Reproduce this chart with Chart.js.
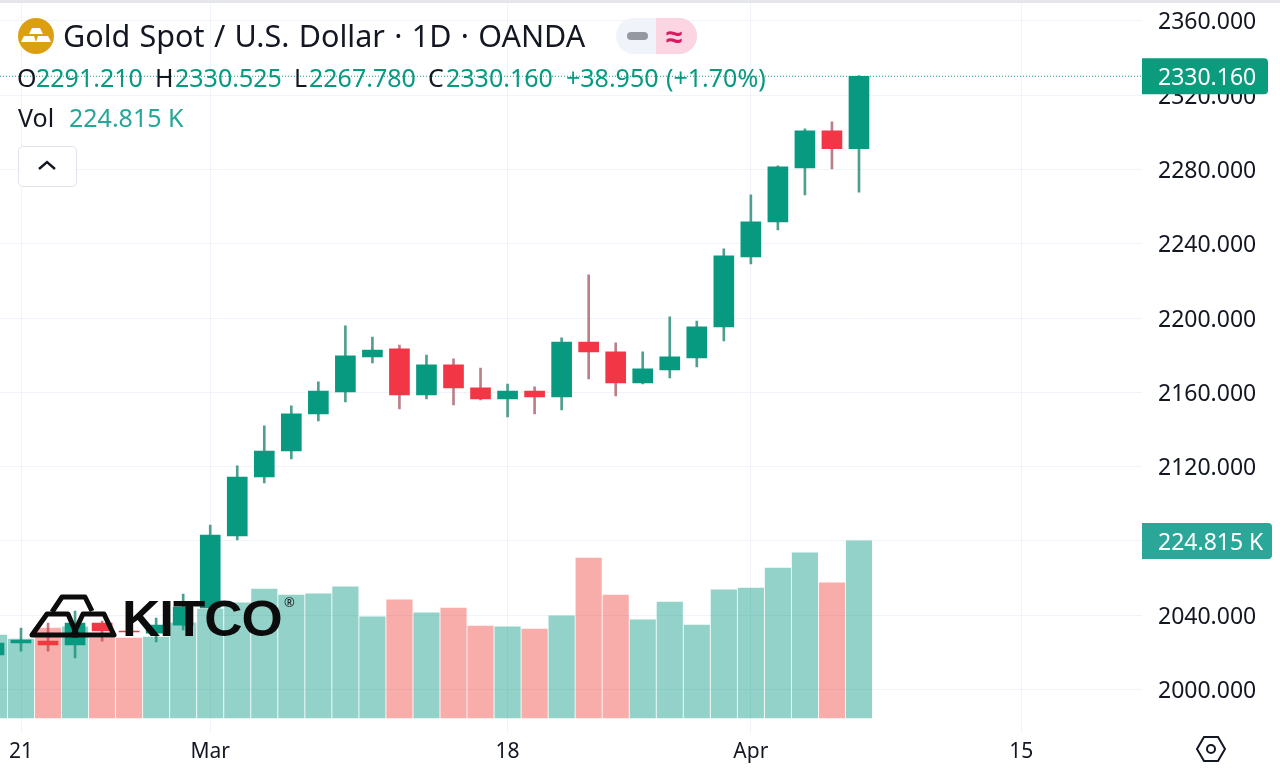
<!DOCTYPE html>
<html>
<head>
<meta charset="utf-8">
<title>Gold Spot / U.S. Dollar</title>
<script src="https://cdn.jsdelivr.net/npm/chart.js@4"></script>
<style>
    html, body { margin: 0; padding: 0; background: #fff; }
    #wrap { position: relative; width: 1280px; height: 773px; overflow: hidden; font-family: "Noto Sans", sans-serif; color: #131722; }
    /* the layout keeps 27px above the plot, so the canvas sits 27px higher */
    #wrap canvas { position: absolute; left: 0; top: -27px; }
    .topband { position: absolute; left: 0; top: 0; width: 1280px; height: 3px; background: #e4e6ec; }
    .txt { position: absolute; white-space: nowrap; line-height: 1; }
    .title { font-size: 30.5px; top: 20px; word-spacing: 1.4px; }
    .ohlc { font-size: 25px; top: 65px; }
    .vol { font-size: 25px; top: 105px; }
    .up { color: #089981; }
    .vol-up { color: #26a69a; }
    .btn { position: absolute; left: 18px; top: 146px; width: 57px; height: 39px; border: 1px solid #e0e3eb; border-radius: 5px; background: #fff; }
    .pill { position: absolute; left: 616px; top: 18px; width: 81px; height: 36px; border-radius: 18px; overflow: hidden; background: #f0f3fa; }
    .pill .r { position: absolute; left: 40px; top: 0; width: 41px; height: 36px; background: #fbd5e2; }
    .pill .dash { position: absolute; left: 11px; top: 14px; width: 21px; height: 8px; border-radius: 4px; background: #9598a1; }
    .pill .wave { position: absolute; left: -2px; top: 0; width: 40px; text-align: center; font-size: 30px; font-weight: bold; line-height: 36px; color: #d81b60; }
    .kitco { font-family: "Liberation Sans", sans-serif; font-weight: bold; font-size: 50px; left: 122px; top: 594px; color: #0c0c0c; transform-origin: 0 0; transform: scaleX(1.06); letter-spacing: -1px; }
    .reg { font-size: 13px; left: 284px; top: 596px; color: #222; }
    svg { position: absolute; }
</style>
</head>
<body>
<div id="wrap">
    <canvas id="goldChart" width="1280" height="800"></canvas>
    <div class="topband"></div>

    <svg style="left:18px;top:18px" width="36" height="36" viewBox="0 0 36 36">
        <circle cx="18" cy="18" r="18" fill="#dd9f12"/>
        <path d="M14 10h8l3 6H11z M6 18h10l2 6H3z M20 18h10l3 6H18z" fill="#fff"/>
    </svg>
    <div class="txt title" style="left:63px">Gold Spot / U.S. Dollar · 1D · OANDA</div>
    <div class="pill"><div class="r"></div><div class="dash"></div><div class="r" style="background:none"><div class="wave">≈</div></div></div>

    <div class="txt ohlc" style="left:17px">O</div><div class="txt ohlc up" style="left:36px">2291.210</div>
    <div class="txt ohlc" style="left:155px">H</div><div class="txt ohlc up" style="left:175px">2330.525</div>
    <div class="txt ohlc" style="left:294px">L</div><div class="txt ohlc up" style="left:309px">2267.780</div>
    <div class="txt ohlc" style="left:428px">C</div><div class="txt ohlc up" style="left:446px">2330.160</div>
    <div class="txt ohlc up" style="left:566px">+38.950</div><div class="txt ohlc up" style="left:666px">(+1.70%)</div>
    <div class="txt vol" style="left:18px">Vol</div><div class="txt vol vol-up" style="left:69px">224.815 K</div>

    <div class="btn"></div>
    <svg style="left:37px;top:159px" width="20" height="12" viewBox="0 0 20 12">
        <path d="M2 10L10 3L18 10" fill="none" stroke="#131722" stroke-width="2.4"/>
    </svg>

    <svg style="left:1195px;top:734px" width="32" height="30" viewBox="0 0 32 30">
        <path d="M9 3h14l7 12l-7 12H9L2 15z" fill="none" stroke="#131722" stroke-width="2"/>
        <circle cx="16" cy="15" r="4" fill="none" stroke="#131722" stroke-width="2"/>
    </svg>

    <!-- Kitco watermark -->
    <svg style="left:26px;top:590px" width="96" height="52" viewBox="0 0 96 52">
        <g fill="none" stroke="#0c0c0c" stroke-width="5" stroke-linejoin="round">
            <path d="M6 45L21 24H42L51 45z"/>
            <path d="M47 45L57 24H78L88 45z"/>
            <path d="M26 22L36 7H59L66 21"/>
        </g>
    </svg>
    <div class="txt kitco">KITCO</div>
    <div class="txt reg">®</div>
</div>

<script>
// Trading days shown, 20 Feb to 5 Apr 2024
const categories = ['Feb 20', 'Feb 21', 'Feb 22', 'Feb 23', 'Feb 26', 'Feb 27', 'Feb 28', 'Feb 29',
    'Mar 1', 'Mar 4', 'Mar 5', 'Mar 6', 'Mar 7', 'Mar 8', 'Mar 11', 'Mar 12', 'Mar 13', 'Mar 14', 'Mar 15',
    'Mar 18', 'Mar 19', 'Mar 20', 'Mar 21', 'Mar 22', 'Mar 25', 'Mar 26', 'Mar 27', 'Mar 28',
    'Apr 1', 'Apr 2', 'Apr 3', 'Apr 4', 'Apr 5'];

const openValues = [2018.6, 2025.05, 2026.1, 2024.0, 2035.8, 2031.5, 2030.4, 2034.7,
    2043.9, 2082.7, 2114.4, 2128.4, 2148.4, 2160.2, 2179.1, 2183.4, 2158.6, 2174.8, 2162.4,
    2156.5, 2160.7, 2157.5, 2187.1, 2181.8, 2165.1, 2172.1, 2178.5, 2195.2,
    2232.9, 2251.8, 2280.8, 2300.8, 2291.21];
const highValues = [2028.8, 2033.1, 2035.8, 2042.3, 2036.9, 2033.1, 2038.5, 2051.4,
    2088.6, 2120.4, 2141.9, 2152.7, 2165.6, 2195.8, 2189.8, 2185.5, 2180.1, 2178.0, 2173.1,
    2164.5, 2162.9, 2189.3, 2223.2, 2186.6, 2181.8, 2200.6, 2198.4, 2237.2,
    2266.3, 2281.9, 2301.8, 2305.6, 2330.525];
const lowValues = [2014.8, 2020.7, 2020.7, 2017.0, 2026.1, 2029.9, 2025.6, 2032.1,
    2041.7, 2080.5, 2111.2, 2124.1, 2144.6, 2154.8, 2175.8, 2151.1, 2156.5, 2153.2, 2155.9,
    2146.8, 2148.4, 2150.5, 2167.2, 2158.1, 2164.5, 2167.7, 2173.7, 2187.7,
    2229.1, 2247.4, 2266.3, 2280.3, 2267.78];
const closeValues = [2025.05, 2026.67, 2024.0, 2035.8, 2031.5, 2031.0, 2034.7, 2044.4,
    2083.2, 2114.4, 2128.4, 2148.4, 2160.7, 2179.6, 2182.8, 2158.6, 2174.8, 2162.4, 2156.5,
    2160.7, 2157.5, 2187.1, 2181.8, 2165.1, 2172.6, 2179.1, 2195.2, 2233.5,
    2251.8, 2281.4, 2300.8, 2291.2, 2330.16];
// Volume in thousands
const volumeValues = [105.4, 100.3, 114.3, 115.6, 101.6, 101.6, 102.9, 120.7,
    138.4, 146.1, 163.8, 156.2, 157.5, 166.4, 128.3, 149.9, 133.4, 139.7, 116.8,
    115.6, 113.0, 129.6, 203.2, 156.2, 124.5, 147.3, 118.1, 162.6,
    165.1, 190.5, 209.6, 171.5, 224.815];

const priceTicks = [2000, 2040, 2080, 2120, 2160, 2200, 2240, 2280, 2320, 2360];
const dateTickSlots = [1, 8, 19, 28, 38];
const dateTickLabels = ['21', 'Mar', '18', 'Apr', '15'];

const lastPrice = 2330.16;
const lastVolume = 224.815;

const GREEN = '#089981';
const RED = '#f23645';
const FONT = '"Noto Sans", sans-serif';

const slots = categories.map((c, i) => i);
const isUp = slots.map(i => closeValues[i] >= openValues[i]);

// Right axis tags for the last price and last volume
const lastValueTags = {
    id: 'lastValueTags',
    afterDraw(chart) {
        const ctx = chart.ctx;
        const left = chart.chartArea.right;
        const drawTag = (y, width, color, text) => {
            ctx.save();
            ctx.fillStyle = color;
            ctx.beginPath();
            ctx.roundRect(left, y - 18, width, 36, [0, 4, 4, 0]);
            ctx.fill();
            ctx.fillStyle = '#fff';
            ctx.font = '23px ' + FONT;
            ctx.textAlign = 'left';
            ctx.textBaseline = 'middle';
            ctx.fillText(text, left + 16, y + 2.5);
            ctx.restore();
        };
        drawTag(chart.scales.y.getPixelForValue(lastPrice), 126, '#0b9c7e', '2330.160');
        drawTag(chart.scales.yVolume.getPixelForValue(lastVolume), 130, '#2aa798', '224.815 K');
    }
};

const ctx = document.getElementById('goldChart').getContext('2d');
const goldChart = new Chart(ctx, {
    type: 'bar',
    data: {
        datasets: [
            {
                label: 'Volume',
                yAxisID: 'yVolume',
                order: 1,
                grouped: false,
                barThickness: 25.5,
                data: slots.map(i => ({ x: i, y: volumeValues[i] })),
                backgroundColor: slots.map(i => isUp[i] ? 'rgba(8,153,129,0.44)' : 'rgba(238,60,55,0.42)')
            },
            {
                label: 'Body',
                yAxisID: 'y',
                order: 2,
                grouped: false,
                barThickness: 20,
                data: slots.map(i => ({ x: i, y: [openValues[i], closeValues[i]] })),
                backgroundColor: slots.map(i => isUp[i] ? GREEN : RED)
            },
            {
                label: 'Wick',
                yAxisID: 'y',
                order: 3,
                grouped: false,
                barThickness: 2,
                data: slots.map(i => ({ x: i, y: [lowValues[i], highValues[i]] })),
                backgroundColor: slots.map(i => isUp[i] ? '#4f9f90' : '#bb7f8a')
            },
            {
                type: 'line',
                label: 'Last price',
                yAxisID: 'y',
                order: 4,
                data: [{ x: 0, y: lastPrice }, { x: 43, y: lastPrice }],
                borderColor: '#089981',
                borderWidth: 1,
                borderDash: [1, 2],
                pointRadius: 0
            }
        ]
    },
    options: {
        responsive: false,
        animation: false,
        plugins: { legend: { display: false }, tooltip: { enabled: false } },
        scales: {
            x: {
                type: 'linear',
                offset: false,
                min: 0.223,
                max: 42.47,
                afterBuildTicks: axis => { axis.ticks = dateTickSlots.map(v => ({ value: v })); },
                afterFit: axis => { axis.height = 40; },
                grid: { color: '#f0f3fa', drawTicks: false, offset: false, lineWidth: 1 },
                border: { display: false },
                ticks: {
                    autoSkip: false,
                    maxRotation: 0,
                    padding: 6,
                    color: '#131722',
                    font: { family: FONT, size: 21 },
                    callback: value => dateTickLabels[dateTickSlots.indexOf(value)]
                }
            },
            y: {
                position: 'right',
                min: 1976.6,
                max: 2369.7,
                afterBuildTicks: axis => { axis.ticks = priceTicks.map(v => ({ value: v })); },
                afterFit: axis => { axis.width = 138; },
                grid: { color: '#f0f3fa', drawTicks: false },
                border: { display: false },
                ticks: {
                    autoSkip: false,
                    padding: 16,
                    labelOffset: 2,
                    color: '#131722',
                    font: { family: FONT, size: 23 },
                    callback: value => value.toFixed(3)
                }
            },
            yVolume: {
                display: false,
                min: -19.05,
                max: 908.1
            }
        }
    },
    plugins: [lastValueTags]
});
</script>
</body>
</html>
